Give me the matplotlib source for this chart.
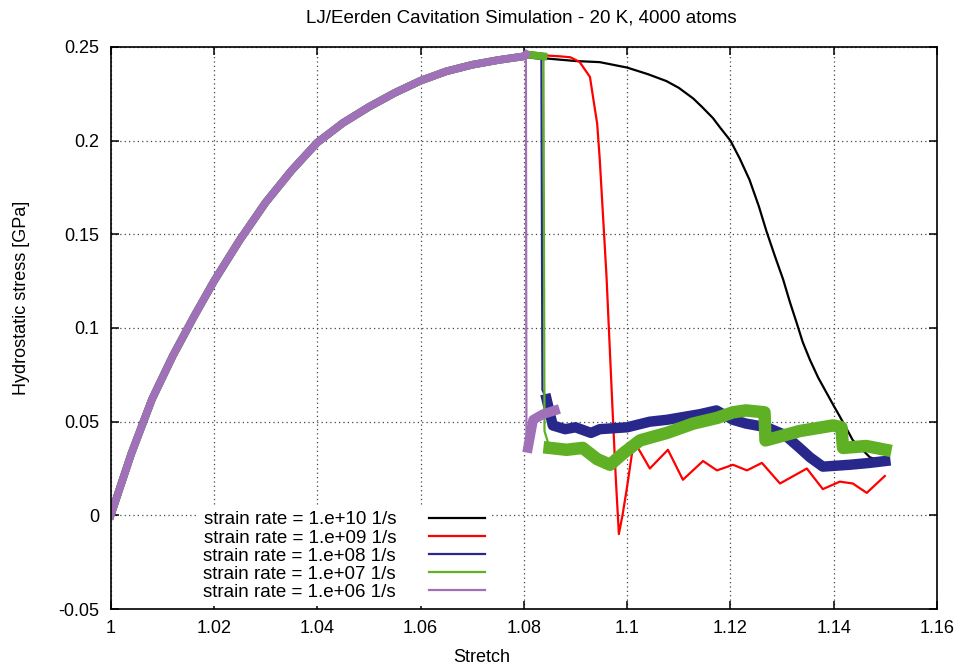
import matplotlib
matplotlib.use("Agg")
import matplotlib.pyplot as plt

plt.rcParams['font.family'] = ['Liberation Sans', 'DejaVu Sans']
plt.rcParams['font.size'] = 13

# common loading curve (all strain rates overlap here)
rise_x = [1.000, 1.004, 1.008, 1.012, 1.016, 1.020, 1.025, 1.030, 1.035, 1.040,
          1.045, 1.050, 1.055, 1.060, 1.065, 1.070, 1.075, 1.080]
rise_y = [0.000, 0.033, 0.062, 0.085, 0.1055, 0.125, 0.147, 0.167, 0.184, 0.199,
          0.2095, 0.218, 0.2255, 0.232, 0.237, 0.2405, 0.243, 0.245]

# 1e10 1/s
black_x = [1.085, 1.090, 1.0947, 1.100, 1.104, 1.1076, 1.110, 1.1128, 1.1145, 1.1166,
           1.118, 1.120, 1.1218, 1.1237, 1.1255, 1.127, 1.1286, 1.1302, 1.1315, 1.1328,
           1.134, 1.1354, 1.137, 1.1386, 1.1399, 1.1412, 1.1425, 1.1437, 1.147, 1.150]
black_y = [0.2437, 0.2425, 0.2419, 0.239, 0.2355, 0.2318, 0.2282, 0.2225, 0.2180, 0.2121,
           0.2070, 0.200, 0.1905, 0.1791, 0.1650, 0.1515, 0.1385, 0.1260, 0.1140, 0.1030,
           0.0925, 0.0830, 0.0735, 0.0655, 0.0590, 0.0527, 0.0462, 0.0401, 0.031, 0.028]

# 1e9 1/s
red_x = [1.084, 1.087, 1.089, 1.0908, 1.0928, 1.0942, 1.0947, 1.096, 1.0972, 1.0978, 1.0984,
         1.0991, 1.0999, 1.1011, 1.1021, 1.1044, 1.1079, 1.1108, 1.1147, 1.1174, 1.1205,
         1.1232, 1.1261, 1.1296, 1.1348, 1.1379, 1.1412, 1.1437, 1.1464, 1.1499]
red_y = [0.2455, 0.245, 0.2445, 0.242, 0.234, 0.209, 0.190, 0.128, 0.055, 0.020, -0.010,
         0.000, 0.0136, 0.036, 0.036, 0.025, 0.035, 0.019, 0.029, 0.024, 0.027,
         0.024, 0.028, 0.017, 0.025, 0.014, 0.018, 0.017, 0.012, 0.021]

# 1e8 1/s : before and after cavitation
blue_top_x = [1.0805, 1.0834]
blue_top_y = [0.246, 0.245]
blue_low_x = [1.0836, 1.0844, 1.0856, 1.088, 1.090, 1.093, 1.0947, 1.100, 1.1044, 1.1077,
              1.1141, 1.1173, 1.1205, 1.123, 1.127, 1.1305, 1.1334, 1.1354, 1.1379, 1.1431,
              1.147, 1.150]
blue_low_y = [0.067, 0.062, 0.048, 0.046, 0.047, 0.044, 0.046, 0.047, 0.050, 0.051,
              0.054, 0.056, 0.051, 0.049, 0.047, 0.043, 0.036, 0.031, 0.026, 0.027,
              0.028, 0.029]

# 1e7 1/s
green_top_x = [1.0805, 1.0838]
green_top_y = [0.246, 0.245]
green_low_x = [1.0840, 1.085, 1.0883, 1.0914, 1.0942, 1.0967, 1.0992, 1.1025, 1.1077, 1.1128,
               1.1174, 1.1205, 1.123, 1.1266, 1.1268, 1.1334, 1.1399, 1.1415, 1.1418, 1.1463,
               1.150]
green_low_y = [0.045, 0.036, 0.035, 0.036, 0.030, 0.027, 0.033, 0.040, 0.044, 0.049,
               0.052, 0.055, 0.056, 0.055, 0.040, 0.045, 0.048, 0.047, 0.036, 0.037,
               0.035]

# 1e6 1/s
purple_top_x = [1.0804]
purple_top_y = [0.246]
purple_low_x = [1.0805, 1.0808, 1.0818, 1.0837, 1.086]
purple_low_y = [0.040, 0.036, 0.051, 0.054, 0.056]

labels = ['strain rate = 1.e+10 1/s', 'strain rate = 1.e+09 1/s',
          'strain rate = 1.e+08 1/s', 'strain rate = 1.e+07 1/s',
          'strain rate = 1.e+06 1/s']
colors = ['#000000', '#ff0000', '#28288c', '#5fb024', '#a070b8']

fig = plt.figure(figsize=(9.61, 6.70), dpi=100)
ax = fig.add_axes([0.1152, 0.091, 0.8598, 0.8389])

thin = 1.6
# smooth curves
ax.plot(rise_x + black_x, rise_y + black_y, color=colors[0], lw=thin, label=labels[0])
ax.plot(rise_x + red_x, rise_y + red_y, color=colors[1], lw=thin, label=labels[1])

# noisy curves: thin line for the jump, thick band for the noisy parts
noisy = [
    (blue_top_x, blue_top_y, blue_low_x, blue_low_y, colors[2], labels[2], 7.5),
    (green_top_x, green_top_y, green_low_x, green_low_y, colors[3], labels[3], 9.0),
    (purple_top_x, purple_top_y, purple_low_x, purple_low_y, colors[4], labels[4], 7.0),
]
for tx, ty, lx, ly, c, lab, band in noisy:
    ax.plot(rise_x + tx + lx, rise_y + ty + ly, color=c, lw=thin, label=lab)
    ax.plot(rise_x + tx, rise_y + ty, color=c, lw=5.5, solid_joinstyle='round')
    ax.plot(lx[1:], ly[1:], color=c, lw=band, solid_joinstyle='round')

ax.set_xlim(1.0, 1.16)
ax.set_ylim(-0.05, 0.25)
xt = [1.0, 1.02, 1.04, 1.06, 1.08, 1.10, 1.12, 1.14, 1.16]
yt = [-0.05, 0.0, 0.05, 0.10, 0.15, 0.20, 0.25]
ax.set_xticks(xt)
ax.set_xticklabels(['%g' % v for v in xt])
ax.set_yticks(yt)
ax.set_yticklabels(['%g' % v for v in yt])
ax.tick_params(direction='in', length=6, width=1.1, top=True, right=True, pad=8)
for s in ax.spines.values():
    s.set_linewidth(1.2)
ax.grid(True, color='#444444', linestyle=(0, (1, 2.5)), linewidth=0.9)

ax.set_xlabel('Stretch')
ax.xaxis.set_label_coords(0.449, -0.072)
ax.set_ylabel('Hydrostatic stress [GPa]')
ax.yaxis.set_label_coords(-0.098, 0.553)

fig.text(0.542, 0.973, 'LJ/Eerden Cavitation Simulation - 20 K, 4000 atoms',
         ha='center', va='center', fontsize=13.5)

leg = ax.legend(loc='upper left', bbox_to_anchor=(0.094, 0.2005), markerfirst=False,
                handlelength=3.0, handletextpad=1.75, labelspacing=0.05, borderpad=0.3,
                frameon=True, fancybox=False, framealpha=1.0, fontsize=13.5)
leg.get_frame().set_edgecolor('none')
leg.get_frame().set_facecolor('white')

fig.savefig('out.png', dpi=100)
